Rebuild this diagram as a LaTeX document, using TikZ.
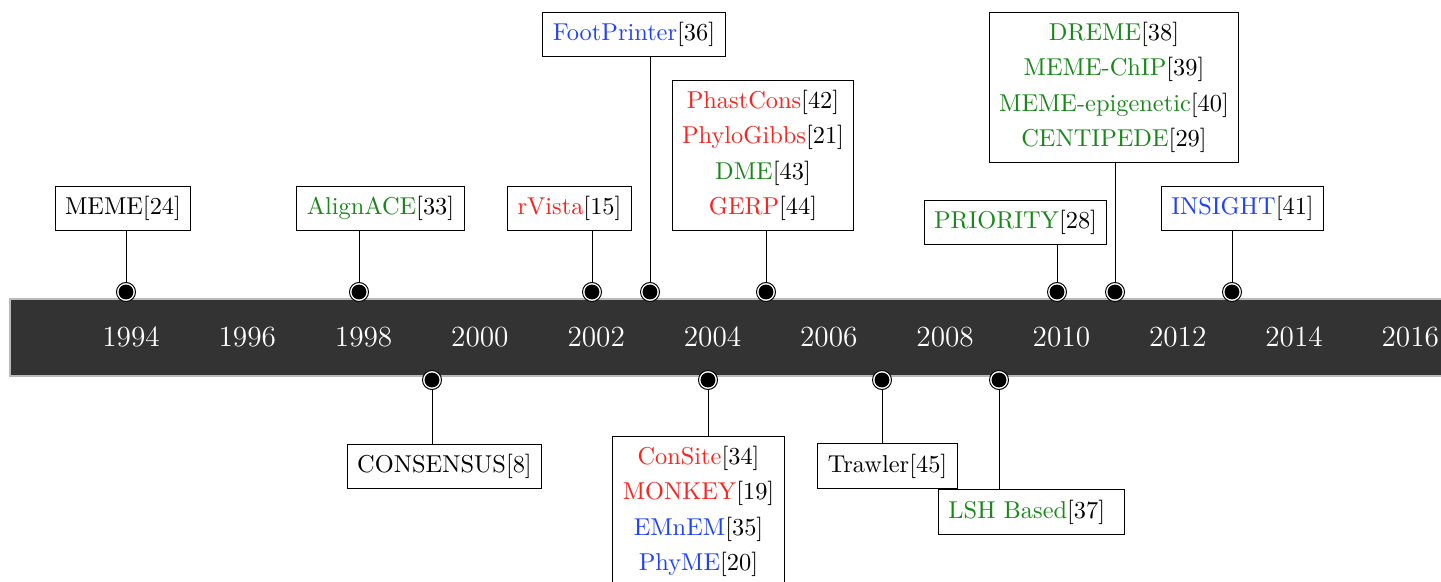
\documentclass[tikz,border=0pt]{standalone}
\usepackage{xcolor}
\definecolor{toolred}{RGB}{250,35,30}
\definecolor{toolgreen}{RGB}{25,135,25}
\definecolor{toolblue}{RGB}{30,65,250}
\definecolor{barfill}{RGB}{51,51,51}
\begin{document}
\begin{tikzpicture}[x=0.41pt,y=-0.41pt,
  evbox/.style={draw=black, line width=0.4pt, fill=white, inner sep=4.1pt, align=center},
  eventdot/.style={circle, draw=black, fill=white, line width=0.4pt, minimum size=7.8pt, inner sep=0pt,
    path picture={\fill[black] (path picture bounding box.center) circle (3.05pt);}},
  stem/.style={draw=black, line width=0.35pt},
  yearlabel/.style={text=white, font=\large}]
\useasboundingbox (0,0) rectangle (1441,582);

% time axis
\fill[barfill, draw=gray!55, line width=0.5pt] (10,299) rectangle (1470,376);
\foreach \yr [count=\i from 0] in {1994,1996,...,2016}
  \node[yearlabel] (y\yr) at (131+\i*116.3,337) {\yr};

% tools above the axis
\node[evbox] (meme) at (123,208.5) {MEME[24]};
\node[evbox] (alignace) at (380.5,208.5) {\textcolor{toolgreen}{AlignACE}[33]};
\node[evbox] (rvista) at (569.5,208.5) {\textcolor{toolred}{rVista}[15]};
\node[evbox] (footprinter) at (634,34.5) {\textcolor{toolblue}{FootPrinter}[36]};
\node[evbox, anchor=north] (phast) at (763,80) {\textcolor{toolred}{PhastCons}[42]\\[2.4pt]
  \textcolor{toolred}{PhyloGibbs}[21]\\[2.4pt]
  \textcolor{toolgreen}{DME}[43]\\[2.4pt]
  \textcolor{toolred}{GERP}[44]};
\node[evbox] (priority) at (1015.5,222.5) {\textcolor{toolgreen}{PRIORITY}[28]};
\node[evbox, anchor=north] (dreme) at (1114,12) {\textcolor{toolgreen}{DREME}[38]\\[2.4pt]
  \textcolor{toolgreen}{MEME-ChIP}[39]\\[2.4pt]
  \textcolor{toolgreen}{MEME-epigenetic}[40]\\[2.4pt]
  \textcolor{toolgreen}{CENTIPEDE}[29]};
\node[evbox] (insight) at (1242.5,208.5) {\textcolor{toolblue}{INSIGHT}[41]};

% tools below the axis
\node[evbox] (consensus) at (444.5,466.5) {CONSENSUS[8]};
\node[evbox, anchor=north] (consite) at (698.5,436) {\textcolor{toolred}{ConSite}[34]\\[2.4pt]
  \textcolor{toolred}{MONKEY}[19]\\[2.4pt]
  \textcolor{toolblue}{EMnEM}[35]\\[2.4pt]
  \textcolor{toolblue}{PhyME}[20]};
\node[evbox] (trawler) at (887.5,466) {Trawler[45]};
\node[evbox, anchor=west] (lsh) at (938,512) {\textcolor{toolgreen}{LSH Based}[37]\kern3.9pt};

% markers on the axis
\foreach \n/\x in {meme/126, alignace/359, rvista/592, footprinter/650, phast/766,
                   priority/1057, dreme/1115, insight/1232}{
  \node[eventdot] (d\n) at (\x,292) {};
  \draw[stem] (d\n.north) -- (d\n |- \n.south);
}
\foreach \n/\x in {consensus/432, consite/708, trawler/882, lsh/999}{
  \node[eventdot] (d\n) at (\x,380) {};
  \draw[stem] (d\n.south) -- (d\n |- \n.north);
}
\end{tikzpicture}
\end{document}
